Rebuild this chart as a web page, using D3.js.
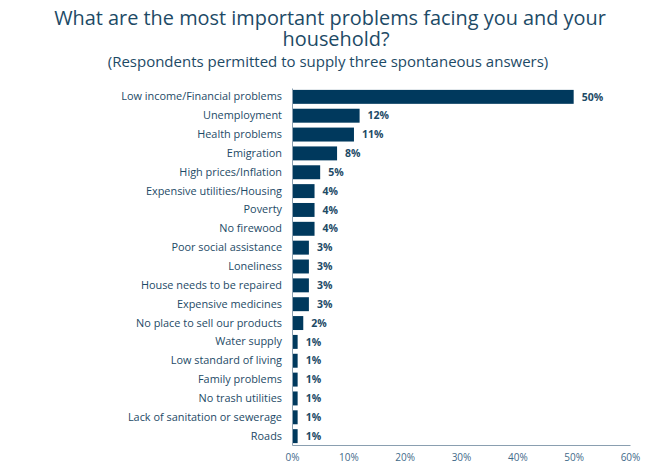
<!DOCTYPE html>
<html>
<head>
<meta charset="utf-8">
<script src="https://cdn.jsdelivr.net/npm/d3@7"></script>
<style>
  body { margin: 0; background: #fff; }
  svg { display: block; font-family: "Open Sans", "DejaVu Sans", sans-serif; }
</style>
</head>
<body>
<svg id="chart" width="650" height="468"></svg>
<script>
// chart data
var categories = [
  "Low income/Financial problems", "Unemployment", "Health problems", "Emigration",
  "High prices/Inflation", "Expensive utilities/Housing", "Poverty", "No firewood",
  "Poor social assistance", "Loneliness", "House needs to be repaired",
  "Expensive medicines", "No place to sell our products", "Water supply",
  "Low standard of living", "Family problems", "No trash utilities",
  "Lack of sanitation or sewerage", "Roads"
];
var values = [50, 12, 11, 8, 5, 4, 4, 4, 3, 3, 3, 3, 2, 1, 1, 1, 1, 1, 1];
var xTicks = [0, 10, 20, 30, 40, 50, 60];

var titleLines = ["What are the most important problems facing you and your", "household?"];
var subtitle = "(Respondents permitted to supply three spontaneous answers)";

var svg = d3.select("#chart");
var textColor = "#1d4a66";
var barColor = "#00395d";

// note: "top" is taken by window.top, so use other names
var mLeft = 292, mRight = 630, mTop = 88, mBottom = 445;

var x = d3.scaleLinear().domain([0, 60]).range([mLeft, mRight]);
var y = d3.scaleBand().domain(categories).range([mTop, mBottom]).paddingInner(0.26).paddingOuter(0.1);

// titles
svg.selectAll("text.title").data(titleLines).enter().append("text")
    .attr("class", "title")
    .attr("x", function(d, i){ return i == 0 ? 330 : 336; })
    .attr("y", function(d, i){ return 25 + i * 21; })
    .attr("text-anchor", "middle")
    .attr("font-size", "19.9px")
    .attr("fill", textColor)
    .text(function(d){ return d; });

svg.append("text")
    .attr("x", 328)
    .attr("y", 67)
    .attr("text-anchor", "middle")
    .attr("font-size", "15px")
    .attr("fill", textColor)
    .text(subtitle);

// bars
svg.selectAll("rect.bar").data(values).enter().append("rect")
    .attr("class", "bar")
    .attr("x", x(0))
    .attr("y", function(d, i){ return y(categories[i]); })
    .attr("width", function(d){ return x(d) - x(0); })
    .attr("height", y.bandwidth())
    .attr("fill", barColor);

// value labels
svg.selectAll("text.val").data(values).enter().append("text")
    .attr("class", "val")
    .attr("x", function(d){ return x(d) + 8; })
    .attr("y", function(d, i){ return y(categories[i]) + y.bandwidth() / 2; })
    .attr("dy", "0.35em")
    .attr("font-size", "10.5px")
    .attr("font-weight", "bold")
    .attr("fill", textColor)
    .text(function(d){ return d + "%"; });

// category labels
var yAxis = svg.append("g")
    .attr("transform", "translate(" + mLeft + ",0)")
    .call(d3.axisLeft(y).tickSize(0).tickPadding(10));
yAxis.select(".domain").attr("stroke", "#8a9fb0");
yAxis.selectAll("text")
    .attr("font-family", "Open Sans, DejaVu Sans, sans-serif")
    .attr("font-size", "10.9px")
    .attr("fill", textColor);

// x axis
var xAxis = svg.append("g")
    .attr("transform", "translate(0," + mBottom + ")")
    .call(d3.axisBottom(x).tickValues(xTicks).tickSize(0).tickPadding(9)
        .tickFormat(function(d){ return d + "%"; }));
xAxis.select(".domain").attr("stroke", "#8a9fb0");
xAxis.selectAll("text")
    .attr("font-family", "Open Sans, DejaVu Sans, sans-serif")
    .attr("font-size", "10px")
    .attr("fill", "#3f6a8a");
</script>
</body>
</html>
